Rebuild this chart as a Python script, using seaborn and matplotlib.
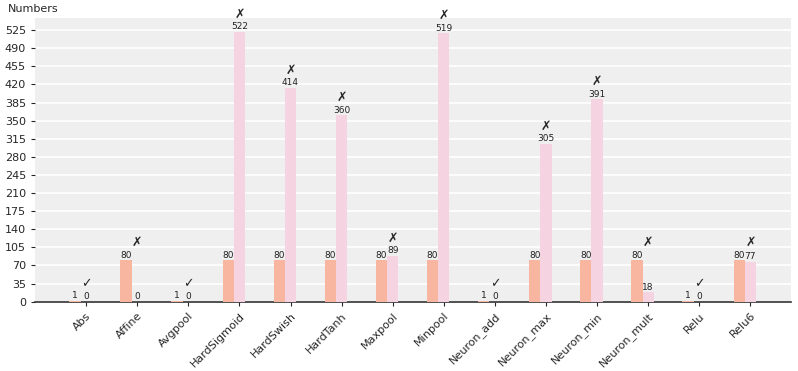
import numpy as np
import pandas as pd
import matplotlib
matplotlib.use("Agg")
import matplotlib.pyplot as plt
import seaborn as sns

# Data
ops = ['Abs', 'Affine', 'Avgpool', 'HardSigmoid', 'HardSwish', 'HardTanh',
       'Maxpool', 'Minpool', 'Neuron_add', 'Neuron_max', 'Neuron_min',
       'Neuron_mult', 'Relu', 'Relu6']
first_vals = [1, 80, 1, 80, 80, 80, 80, 80, 1, 80, 80, 80, 1, 80]
second_vals = [0, 0, 0, 522, 414, 360, 89, 519, 0, 305, 391, 18, 0, 77]
passed = [True, False, True, False, False, False, False, False, True,
          False, False, False, True, False]
yticks = list(range(0, 526, 35))

sns.set_style("white")
plt.rcParams['font.family'] = ['DejaVu Sans']

df = pd.DataFrame({
    'op': ops * 2,
    'value': first_vals + second_vals,
    'series': ['first'] * len(ops) + ['second'] * len(ops),
})

fig = plt.figure(figsize=(7.98, 3.71), dpi=100)
ax = fig.add_axes([0.0439, 0.187, 0.947, 0.764])
ax.set_facecolor('#efefef')

w = 0.22
sns.barplot(data=df, x='op', y='value', hue='series', order=ops,
            palette=['#f8b6a0', '#f6d3e1'], width=2 * w, gap=0,
            saturation=1, legend=False, ax=ax, zorder=3, linewidth=0)

for cont in ax.containers:
    ax.bar_label(cont, fontsize=6.5, padding=0.5, color='#222222')

# pass / fail marks above the taller bar of each pair
for i, (a, b) in enumerate(zip(first_vals, second_vals)):
    mark = '\u2713' if passed[i] else '\u2717'
    ax.annotate(mark, (i + w / 2, max(a, b)), xytext=(0, 8), textcoords='offset points',
                ha='center', va='bottom', fontsize=9, fontweight='bold')

ax.set_ylim(0, max(second_vals) * 1.05)
ax.set_yticks(yticks)
ax.set_xticks(np.arange(len(ops)) + w / 2)
ax.set_xticklabels(ops, rotation=45, ha='right', rotation_mode='anchor', fontsize=8)
ax.set_xlim(-1 + w / 2, 13.79 + w / 2)
ax.tick_params(axis='y', labelsize=8, length=3, left=True)
ax.tick_params(axis='x', length=3, bottom=True)
ax.grid(axis='y', color='white', linewidth=1.2, zorder=0)
ax.set_axisbelow(True)
ax.set_xlabel('')
ax.set_ylabel('')

for side in ['top', 'right', 'left']:
    ax.spines[side].set_visible(False)
ax.spines['bottom'].set_color('#333333')
ax.spines['bottom'].set_linewidth(1.2)

fig.text(0.01, 0.975, 'Numbers', fontsize=8, ha='left', va='center')

fig.savefig('out.png', dpi=100)
